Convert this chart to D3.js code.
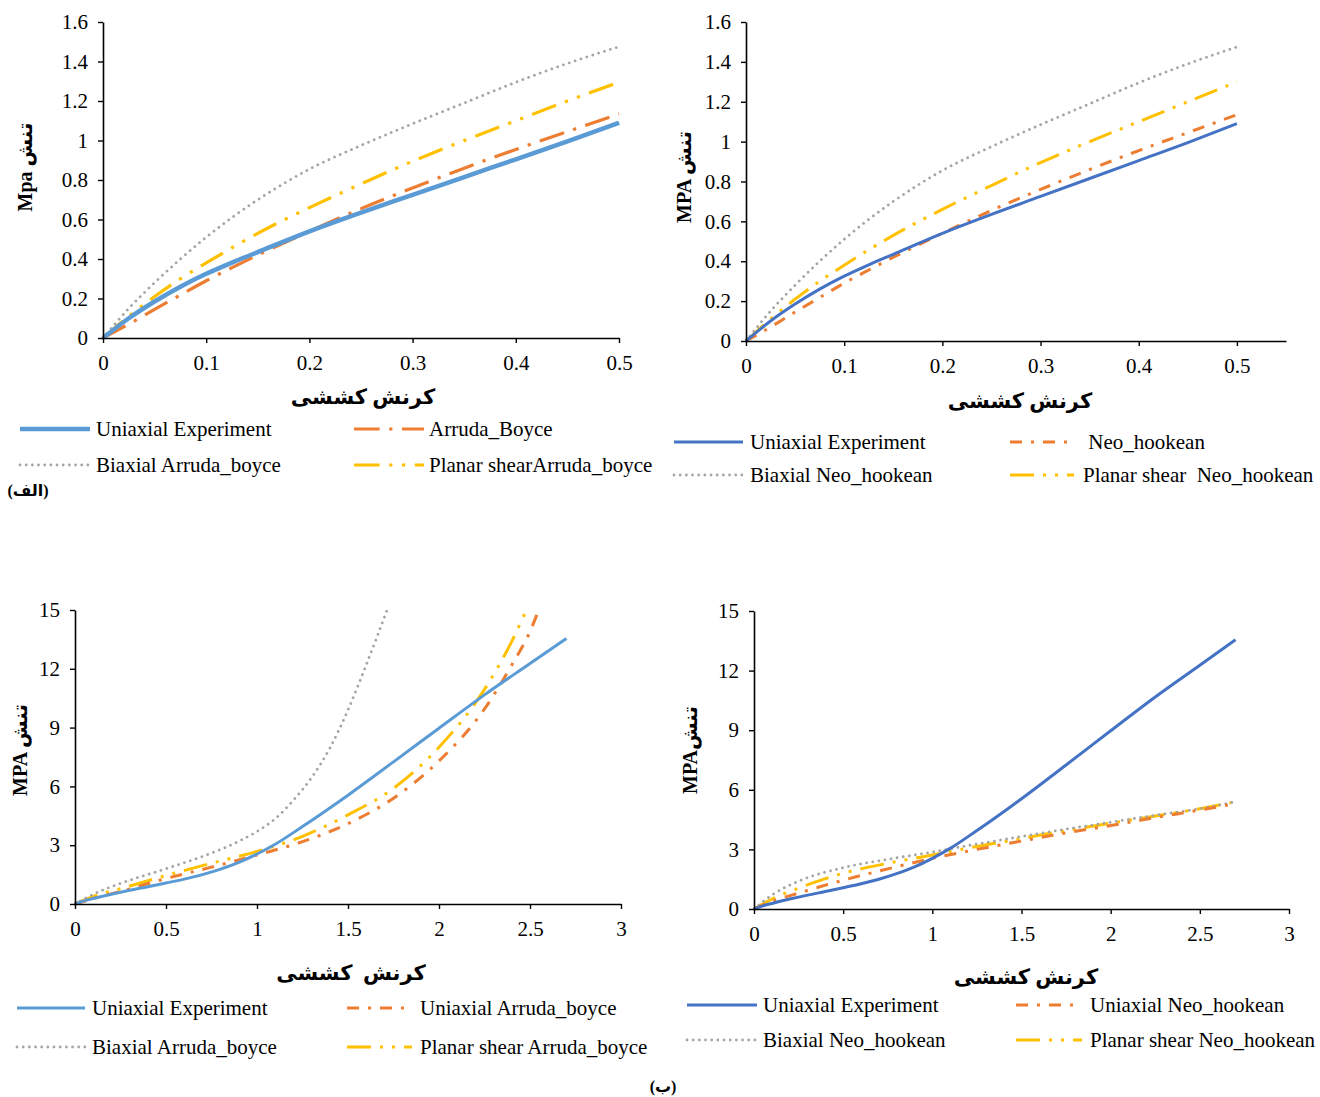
<!DOCTYPE html>
<html>
<head>
<meta charset="utf-8">
<script src="https://cdn.jsdelivr.net/npm/d3@7"></script>
<style>
  body { margin: 0; background: #fff; }
  svg text { font-family: "Liberation Serif", "Times New Roman", "DejaVu Sans", serif; fill: #000; }
  .fa { font-family: "Liberation Serif", "DejaVu Sans", sans-serif; font-weight: bold; }
</style>
</head>
<body>
<svg id="chart" width="1320" height="1097"></svg>
<script>
// ---------- small-strain range (0 – 0.5) ----------
const smallStrain      = [0, 0.025, 0.05, 0.075, 0.1, 0.125, 0.15, 0.2, 0.25, 0.3, 0.35, 0.4, 0.45, 0.5];
const smallExp         = [0, 0.10, 0.185, 0.26, 0.325, 0.382, 0.435, 0.54, 0.635, 0.725, 0.815, 0.905, 0.995, 1.09];
const smallABUniaxial  = [0, 0.07, 0.145, 0.218, 0.29, 0.356, 0.42, 0.54, 0.655, 0.76, 0.86, 0.955, 1.045, 1.135];
const smallABBiaxial   = [0, 0.15, 0.28, 0.40, 0.51, 0.61, 0.70, 0.855, 0.975, 1.085, 1.19, 1.295, 1.39, 1.475];
const smallABPlanar    = [0, 0.11, 0.21, 0.30, 0.38, 0.457, 0.53, 0.66, 0.78, 0.895, 1.0, 1.10, 1.20, 1.295];
const smallNHUniaxial  = [0, 0.07, 0.145, 0.218, 0.29, 0.356, 0.42, 0.54, 0.655, 0.76, 0.86, 0.955, 1.045, 1.135];
const smallNHBiaxial   = [0, 0.15, 0.28, 0.40, 0.51, 0.61, 0.70, 0.855, 0.975, 1.085, 1.19, 1.295, 1.39, 1.475];
const smallNHPlanar    = [0, 0.11, 0.21, 0.30, 0.38, 0.457, 0.53, 0.66, 0.78, 0.895, 1.0, 1.10, 1.20, 1.30];

// ---------- large-strain range (0 – 3) ----------
const largeExpStrain   = [0, 0.05, 0.1, 0.2, 0.3, 0.4, 0.5, 0.6, 0.7, 0.8, 0.9, 1.0, 1.1, 1.25, 1.5, 1.75, 2.0, 2.25, 2.5, 2.7];
const largeExp         = [0, 0.16, 0.28, 0.5, 0.7, 0.88, 1.07, 1.27, 1.5, 1.78, 2.12, 2.55, 3.05, 3.95, 5.55, 7.25, 8.97, 10.67, 12.27, 13.55];

const largeABUniStrain = [0, 0.1, 0.25, 0.5, 0.75, 1.0, 1.25, 1.5, 1.75, 2.0, 2.25, 2.4, 2.5, 2.548];
const largeABUniaxial  = [0, 0.28, 0.64, 1.3, 1.88, 2.5, 3.18, 4.1, 5.4, 7.3, 9.95, 12.2, 13.9, 15];
const largeABBiStrain  = [0, 0.1, 0.25, 0.5, 0.75, 0.9, 1.0, 1.1, 1.2, 1.3, 1.4, 1.5, 1.6, 1.715];
const largeABBiaxial   = [0, 0.5, 1.05, 1.8, 2.6, 3.2, 3.7, 4.35, 5.3, 6.45, 7.95, 9.9, 12.2, 15];
const largeABPlStrain  = [0, 0.12, 0.25, 0.5, 0.75, 1.0, 1.25, 1.5, 1.75, 2.0, 2.25, 2.4, 2.48];
const largeABPlanar    = [0, 0.45, 0.78, 1.45, 2.08, 2.68, 3.45, 4.55, 5.9, 8.0, 10.95, 13.4, 15];

const largeNHStrain    = [0, 0.1, 0.25, 0.5, 0.75, 1.0, 1.25, 1.5, 1.75, 2.0, 2.25, 2.5, 2.7];
const largeNHUniaxial  = [0, 0.38, 0.8, 1.45, 2.02, 2.55, 3.0, 3.42, 3.83, 4.2, 4.6, 4.98, 5.3];
const largeNHBiaxial   = [0, 0.7, 1.4, 2.08, 2.5, 2.87, 3.27, 3.65, 4.02, 4.37, 4.72, 5.05, 5.4];
const largeNHPlanar    = [0, 0.5, 1.05, 1.8, 2.3, 2.72, 3.15, 3.55, 3.95, 4.32, 4.68, 5.05, 5.4];

// ---------- tick labels ----------
const smallStrainTicks = [0, 0.1, 0.2, 0.3, 0.4, 0.5];
const smallStressTicks = [0, 0.2, 0.4, 0.6, 0.8, 1, 1.2, 1.4, 1.6];
const largeStrainTicks = [0, 0.5, 1, 1.5, 2, 2.5, 3];
const largeStressTicks = [0, 3, 6, 9, 12, 15];

// ---------- legend texts ----------
const legendAB1 = ["Uniaxial Experiment", "Arruda_Boyce", "Biaxial Arruda_boyce", "Planar shearArruda_boyce"];
const legendNH1 = ["Uniaxial Experiment", " Neo_hookean", "Biaxial Neo_hookean", "Planar shear  Neo_hookean"];
const legendAB2 = ["Uniaxial Experiment", "Uniaxial Arruda_boyce", "Biaxial Arruda_boyce", "Planar shear Arruda_boyce"];
const legendNH2 = ["Uniaxial Experiment", "Uniaxial Neo_hookean", "Biaxial Neo_hookean", "Planar shear Neo_hookean"];

const zip = (xs, ys) => xs.map((x, i) => [x, ys[i]]);

const COLORS = { lightBlue: "#5B9BD5", blue: "#4472C4", orange: "#ED7D31", gray: "#A5A5A5", gold: "#FFC000" };

function dashFor(style, w) {
  if (style === "longDashDot")    return [8, 3, 1, 3].map(v => v * w).join(" ");
  if (style === "dashDot")        return [4, 3, 1, 3].map(v => v * w).join(" ");
  if (style === "longDashDotDot") return [8, 3, 1, 3, 1, 3].map(v => v * w).join(" ");
  if (style === "dot")            return "0.01 " + (2.2 * w);
  return null;
}

const panels = [
  {
    xr: [103, 619], yr: [338, 22], xDomain: [0, 0.5], yDomain: [0, 1.6],
    xTicks: smallStrainTicks, yTicks: smallStressTicks,
    yTitle: "Mpa تنش", yTitlePos: [25, 167], xTitle: "کرنش کششی", xTitlePos: [363, 397],
    series: [
      { pts: zip(smallStrain, smallExp),        color: COLORS.lightBlue, w: 4.5, style: "solid" },
      { pts: zip(smallStrain, smallABUniaxial), color: COLORS.orange,    w: 3.2, style: "longDashDot" },
      { pts: zip(smallStrain, smallABBiaxial),  color: COLORS.gray,      w: 2.8, style: "dot" },
      { pts: zip(smallStrain, smallABPlanar),   color: COLORS.gold,      w: 3.2, style: "longDashDotDot" }
    ],
    legend: { labels: legendAB1, rows: [429, 465], cols: [[20, 90, 96], [354, 424, 429]] }
  },
  {
    xr: [746, 1286], yr: [341, 22], xDomain: [0, 0.55], yDomain: [0, 1.6],
    xTicks: smallStrainTicks, yTicks: smallStressTicks,
    yTitle: "MPA تنش", yTitlePos: [684, 177], xTitle: "کرنش کششی", xTitlePos: [1020, 401],
    series: [
      { pts: zip(smallStrain, smallExp),        color: COLORS.blue,   w: 3, style: "solid" },
      { pts: zip(smallStrain, smallNHUniaxial), color: COLORS.orange, w: 3, style: "dashDot" },
      { pts: zip(smallStrain, smallNHBiaxial),  color: COLORS.gray,   w: 2.8, style: "dot" },
      { pts: zip(smallStrain, smallNHPlanar),   color: COLORS.gold,   w: 3, style: "longDashDotDot" }
    ],
    legend: { labels: legendNH1, rows: [442, 475], cols: [[674, 743, 750], [1010, 1074, 1083]] }
  },
  {
    xr: [75, 621], yr: [904, 610], xDomain: [0, 3], yDomain: [0, 15],
    xTicks: largeStrainTicks, yTicks: largeStressTicks,
    yTitle: "MPA تنش", yTitlePos: [20, 750], xTitle: "کرنش  کششی", xTitlePos: [351, 973],
    series: [
      { pts: zip(largeExpStrain, largeExp),          color: COLORS.lightBlue, w: 3, style: "solid" },
      { pts: zip(largeABUniStrain, largeABUniaxial), color: COLORS.orange,    w: 3, style: "dashDot" },
      { pts: zip(largeABBiStrain, largeABBiaxial),   color: COLORS.gray,      w: 2.8, style: "dot" },
      { pts: zip(largeABPlStrain, largeABPlanar),    color: COLORS.gold,      w: 3, style: "longDashDotDot" }
    ],
    legend: { labels: legendAB2, rows: [1008, 1047], cols: [[17, 85, 92], [347, 412, 420]] }
  },
  {
    xr: [754, 1289], yr: [909, 611], xDomain: [0, 3], yDomain: [0, 15],
    xTicks: largeStrainTicks, yTicks: largeStressTicks,
    yTitle: "MPAتنش", yTitlePos: [690, 750], xTitle: "کرنش کششی", xTitlePos: [1026, 977],
    series: [
      { pts: zip(largeExpStrain, largeExp),        color: COLORS.blue,   w: 3, style: "solid" },
      { pts: zip(largeNHStrain, largeNHUniaxial),  color: COLORS.orange, w: 3, style: "dashDot" },
      { pts: zip(largeNHStrain, largeNHBiaxial),   color: COLORS.gray,   w: 2.8, style: "dot" },
      { pts: zip(largeNHStrain, largeNHPlanar),    color: COLORS.gold,   w: 3, style: "longDashDotDot" }
    ],
    legend: { labels: legendNH2, rows: [1005, 1040], cols: [[687, 757, 763], [1016, 1082, 1090]] }
  }
];

const svg = d3.select("#chart");
const defs = svg.append("defs");

function styleLine(sel, s) {
  sel.attr("fill", "none")
     .attr("stroke", s.color)
     .attr("stroke-width", s.w)
     .attr("stroke-linecap", s.style === "dot" ? "round" : "butt")
     .attr("stroke-linejoin", "round")
     .attr("stroke-dasharray", dashFor(s.style, s.w));
}

panels.forEach((p, pi) => {
  const x = d3.scaleLinear().domain(p.xDomain).range(p.xr);
  const y = d3.scaleLinear().domain(p.yDomain).range(p.yr);
  const g = svg.append("g");

  // plot-area clip so curves stop at the top of the value axis
  const clipId = "clip" + pi;
  defs.append("clipPath").attr("id", clipId).append("rect")
    .attr("x", p.xr[0] - 5).attr("y", p.yr[1])
    .attr("width", p.xr[1] - p.xr[0] + 10).attr("height", p.yr[0] - p.yr[1] + 5);

  // curves (experiment drawn last so it sits on top)
  const line = d3.line().x(d => x(d[0])).y(d => y(d[1])).curve(d3.curveMonotoneX);
  const order = [3, 2, 1, 0];
  const lines = g.append("g").attr("clip-path", `url(#${clipId})`);
  order.forEach(i => {
    const s = p.series[i];
    lines.append("path").datum(s.pts).attr("d", line).call(styleLine, s);
  });

  // axes
  const xAxis = d3.axisBottom(x).tickValues(p.xTicks).tickSize(5).tickSizeOuter(0).tickPadding(12).tickFormat(d => String(d));
  const yAxis = d3.axisLeft(y).tickValues(p.yTicks).tickSize(5).tickSizeOuter(0).tickPadding(10).tickFormat(d => String(d));
  const gx = g.append("g").attr("transform", `translate(0,${p.yr[0]})`).call(xAxis);
  const gy = g.append("g").attr("transform", `translate(${p.xr[0]},0)`).call(yAxis);
  [gx, gy].forEach(a => {
    a.select(".domain").attr("stroke", "#000").attr("stroke-width", 1.6);
    a.selectAll(".tick line").attr("stroke", "#000").attr("stroke-width", 1.4);
    a.selectAll(".tick text").attr("font-size", 21).attr("fill", "#000")
      .style("font-family", '"Liberation Serif", serif');
  });

  // axis titles
  g.append("text").attr("class", "fa")
    .attr("x", p.xTitlePos[0]).attr("y", p.xTitlePos[1])
    .attr("text-anchor", "middle").attr("dominant-baseline", "central")
    .attr("font-size", 21).style("white-space", "pre")
    .text(p.xTitle);
  g.append("text").attr("class", "fa")
    .attr("transform", `translate(${p.yTitlePos[0]},${p.yTitlePos[1]}) rotate(-90)`)
    .attr("text-anchor", "middle").attr("dominant-baseline", "central")
    .attr("font-size", 20)
    .text(p.yTitle);

  // legend: 2 x 2 grid
  const L = p.legend;
  p.series.forEach((s, i) => {
    const row = L.rows[Math.floor(i / 2)];
    const col = L.cols[i % 2];
    g.append("line").attr("x1", col[0]).attr("x2", col[1]).attr("y1", row).attr("y2", row).call(styleLine, s);
    g.append("text").attr("x", col[2]).attr("y", row).attr("dy", "0.35em")
      .attr("font-size", 21).style("white-space", "pre").text(L.labels[i]);
  });
});

// sub-figure captions
svg.append("text").attr("class", "fa").attr("x", 28).attr("y", 490)
  .attr("text-anchor", "middle").attr("dominant-baseline", "central").attr("font-size", 16).text("(الف)");
svg.append("text").attr("class", "fa").attr("x", 663).attr("y", 1086)
  .attr("text-anchor", "middle").attr("dominant-baseline", "central").attr("font-size", 16).text("(ب)");
</script>
</body>
</html>
